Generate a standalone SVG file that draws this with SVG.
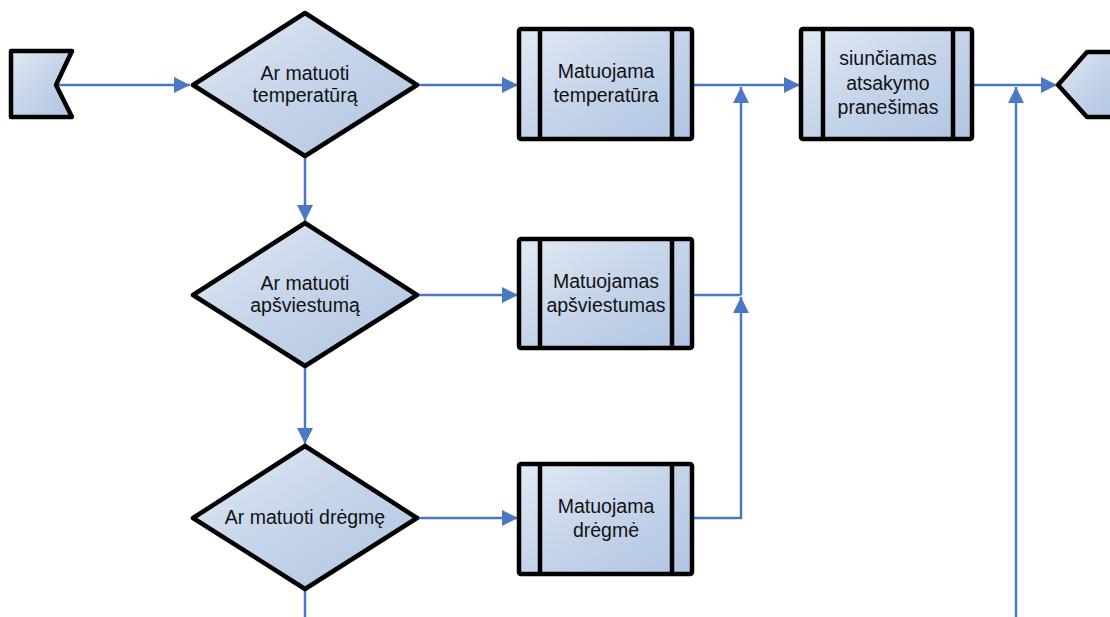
<svg xmlns="http://www.w3.org/2000/svg" width="1110" height="617" viewBox="0 0 1110 617">
  <defs>
    <linearGradient id="fill" x1="0" y1="0" x2="1" y2="1">
      <stop offset="0" stop-color="#e2e9f4"/>
      <stop offset="0.5" stop-color="#c5d4ea"/>
      <stop offset="1" stop-color="#b1c4e2"/>
    </linearGradient>
    <marker id="arrow" viewBox="0 0 16 16" refX="16" refY="8" markerWidth="16" markerHeight="16" markerUnits="userSpaceOnUse" orient="auto">
      <path d="M0,0 L16,8 L0,16 Z" fill="#4a78c2"/>
    </marker>
    <style>
      .shape { fill: url(#fill); stroke: #000; stroke-width: 4.5; stroke-linejoin: round; }
      .bar { fill: none; stroke: #000; stroke-width: 4.5; }
      .conn { fill: none; stroke: #4a78c2; stroke-width: 2.5; }
      text { font-family: "Liberation Sans", Arial, sans-serif; font-size: 19.5px; fill: #111; text-anchor: middle; }
    </style>
  </defs>

  <!-- connectors -->
  <g id="connectors">
    <path class="conn" d="M56,85 H190" marker-end="url(#arrow)"/>
    <path class="conn" d="M418,85 H518" marker-end="url(#arrow)"/>
    <path class="conn" d="M305,157 V221" marker-end="url(#arrow)"/>
    <path class="conn" d="M418,295 H518" marker-end="url(#arrow)"/>
    <path class="conn" d="M305,367 V444" marker-end="url(#arrow)"/>
    <path class="conn" d="M418,518 H518" marker-end="url(#arrow)"/>
    <path class="conn" d="M305,590 V617"/>
    <path class="conn" d="M693,85 H800" marker-end="url(#arrow)"/>
    <path class="conn" d="M693,295 H741"/>
    <path class="conn" d="M693,518 H741 V297" marker-end="url(#arrow)"/>
    <path class="conn" d="M741,295 V87" marker-end="url(#arrow)"/>
    <path class="conn" d="M973,85 H1057" marker-end="url(#arrow)"/>
    <path class="conn" d="M1016,617 V87" marker-end="url(#arrow)"/>
  </g>

  <!-- start terminator -->
  <g id="start">
    <path class="shape" d="M11,51 H72 L56,85 L72,117 H11 Z"/>
  </g>

  <!-- decisions -->
  <g id="decision-temperature">
    <path class="shape" d="M305,13 L417,85 L305,156 L193,85 Z"/>
    <text x="305" y="80">Ar matuoti</text>
    <text x="305" y="102">temperatūrą</text>
  </g>
  <g id="decision-light">
    <path class="shape" d="M305,223 L417,295 L305,366 L193,295 Z"/>
    <text x="305" y="290">Ar matuoti</text>
    <text x="305" y="312">apšviestumą</text>
  </g>
  <g id="decision-humidity">
    <path class="shape" d="M305,446 L417,518 L305,589 L193,518 Z"/>
    <text x="305" y="524">Ar matuoti drėgmę</text>
  </g>

  <!-- processes -->
  <g id="process-temperature">
    <rect class="shape" x="519" y="29" width="173" height="110" rx="2"/>
    <line class="bar" x1="540" y1="29" x2="540" y2="139"/>
    <line class="bar" x1="672" y1="29" x2="672" y2="139"/>
    <text x="606" y="78">Matuojama</text>
    <text x="606" y="102">temperatūra</text>
  </g>
  <g id="process-light">
    <rect class="shape" x="519" y="239" width="173" height="109" rx="2"/>
    <line class="bar" x1="540" y1="239" x2="540" y2="348"/>
    <line class="bar" x1="672" y1="239" x2="672" y2="348"/>
    <text x="606" y="288">Matuojamas</text>
    <text x="606" y="312">apšviestumas</text>
  </g>
  <g id="process-humidity">
    <rect class="shape" x="519" y="464" width="173" height="110" rx="2"/>
    <line class="bar" x1="540" y1="464" x2="540" y2="574"/>
    <line class="bar" x1="672" y1="464" x2="672" y2="574"/>
    <text x="606" y="513">Matuojama</text>
    <text x="606" y="537">drėgmė</text>
  </g>
  <g id="process-reply">
    <rect class="shape" x="801" y="29" width="171" height="110" rx="2"/>
    <line class="bar" x1="823" y1="29" x2="823" y2="139"/>
    <line class="bar" x1="953" y1="29" x2="953" y2="139"/>
    <text x="888" y="65">siunčiamas</text>
    <text x="888" y="90">atsakymo</text>
    <text x="888" y="114">pranešimas</text>
  </g>

  <!-- end terminator -->
  <g id="end">
    <path class="shape" d="M1120,52 H1087 L1058,85 L1087,117 H1120"/>
  </g>
</svg>
